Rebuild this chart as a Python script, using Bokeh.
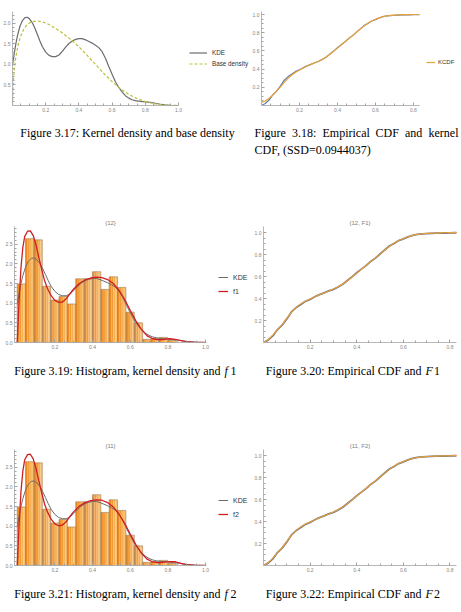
import numpy as np
from bokeh.plotting import figure
from bokeh.layouts import column, row
from bokeh.models import Range1d, FixedTicker, Legend, LegendItem, PrintfTickFormatter
from bokeh.core.properties import value
from bokeh.embed import file_html
from bokeh.resources import INLINE

# ---------------- data ----------------
kde_x = [0.0, 0.01, 0.02, 0.03, 0.045, 0.06, 0.075, 0.09, 0.105, 0.12, 0.135, 0.15, 0.165, 0.18,
         0.20, 0.22, 0.24, 0.26, 0.28, 0.30, 0.32, 0.34, 0.36, 0.38, 0.40, 0.42, 0.44, 0.46, 0.48,
         0.50, 0.52, 0.54, 0.56, 0.58, 0.60, 0.62, 0.64, 0.66, 0.68, 0.70, 0.72, 0.74, 0.77, 0.80,
         0.83, 0.86, 0.89, 0.92, 0.95, 1.0]
kde_y = [0.97, 1.25, 1.50, 1.70, 1.93, 2.07, 2.14, 2.15, 2.10, 2.01, 1.88, 1.73, 1.57, 1.43,
         1.30, 1.22, 1.19, 1.19, 1.23, 1.32, 1.42, 1.51, 1.57, 1.61, 1.63, 1.63, 1.60, 1.56, 1.52,
         1.47, 1.41, 1.31, 1.15, 0.95, 0.76, 0.58, 0.44, 0.33, 0.24, 0.18, 0.14, 0.12, 0.10, 0.09,
         0.075, 0.055, 0.03, 0.015, 0.006, 0.0]

base_x = [0.0, 0.005, 0.01, 0.02, 0.035, 0.05, 0.07, 0.09, 0.11, 0.13, 0.15, 0.175, 0.20, 0.225,
          0.25, 0.30, 0.35, 0.40, 0.45, 0.50, 0.55, 0.60, 0.65, 0.70, 0.75, 0.80, 0.85, 0.90, 0.95, 1.0]
base_y = [0.0, 0.55, 0.85, 1.18, 1.50, 1.70, 1.88, 1.98, 2.03, 2.05, 2.06, 2.04, 2.01, 1.96,
          1.90, 1.77, 1.61, 1.43, 1.22, 1.00, 0.78, 0.58, 0.41, 0.27, 0.17, 0.095, 0.045, 0.017, 0.004, 0.0]

f_x = [0.0, 0.01, 0.02, 0.03, 0.04, 0.055, 0.07, 0.085, 0.10, 0.115, 0.13, 0.145, 0.16, 0.18,
       0.20, 0.22, 0.24, 0.26, 0.28, 0.30, 0.33, 0.36, 0.39, 0.42, 0.45, 0.48, 0.51, 0.54, 0.57,
       0.60, 0.63, 0.66, 0.69, 0.72, 0.75, 0.78, 0.81, 0.84, 0.87, 0.90, 0.94, 1.0]
f1_y = [0.0, 1.05, 1.90, 2.42, 2.70, 2.83, 2.84, 2.72, 2.48, 2.16, 1.86, 1.58, 1.38, 1.19,
        1.07, 1.02, 1.03, 1.11, 1.24, 1.36, 1.50, 1.59, 1.64, 1.66, 1.65, 1.60, 1.50, 1.33, 1.10,
        0.82, 0.55, 0.33, 0.17, 0.095, 0.07, 0.08, 0.095, 0.08, 0.045, 0.02, 0.007, 0.0]
f2_y = [0.0, 1.03, 1.88, 2.40, 2.69, 2.82, 2.83, 2.71, 2.47, 2.15, 1.85, 1.57, 1.37, 1.18,
        1.06, 1.01, 1.03, 1.11, 1.25, 1.37, 1.51, 1.60, 1.65, 1.67, 1.66, 1.60, 1.49, 1.31, 1.08,
        0.80, 0.53, 0.31, 0.16, 0.09, 0.07, 0.085, 0.10, 0.095, 0.055, 0.022, 0.007, 0.0]

bin_start = 0.0
bin_width = 0.0444
hist_heights = [1.49, 2.64, 2.61, 1.43, 1.08, 1.17, 0.98, 1.62, 1.62, 1.80, 1.35, 1.67, 1.40,
                0.77, 0.50, 0.08, 0.10, 0.13, 0.05]

cdf_x = [0.0, 0.02, 0.04, 0.06, 0.08, 0.10, 0.12, 0.14, 0.16, 0.18, 0.20, 0.22, 0.24, 0.26,
         0.28, 0.30, 0.32, 0.34, 0.36, 0.38, 0.40, 0.42, 0.44, 0.46, 0.48, 0.50, 0.52, 0.54,
         0.56, 0.58, 0.60, 0.62, 0.64, 0.66, 0.68, 0.70, 0.72, 0.74, 0.76, 0.78, 0.80, 0.82, 0.84]
ecdf_y = [0.000, 0.022, 0.060, 0.118, 0.158, 0.215, 0.278, 0.318, 0.346, 0.375, 0.392, 0.416,
          0.436, 0.452, 0.470, 0.484, 0.505, 0.530, 0.565, 0.598, 0.635, 0.668, 0.700, 0.738,
          0.768, 0.806, 0.842, 0.878, 0.902, 0.928, 0.944, 0.962, 0.976, 0.984, 0.988, 0.992,
          0.994, 0.995, 0.996, 0.997, 0.998, 0.999, 1.000]
kcdf_y = [0.035, 0.050, 0.080, 0.115, 0.160, 0.205, 0.255, 0.300, 0.335, 0.365, 0.390, 0.413,
          0.434, 0.452, 0.469, 0.486, 0.507, 0.532, 0.563, 0.597, 0.633, 0.667, 0.701, 0.736,
          0.769, 0.805, 0.840, 0.874, 0.903, 0.928, 0.947, 0.963, 0.976, 0.985, 0.990, 0.993,
          0.995, 0.997, 0.998, 0.999, 1.000, 1.000, 1.000]
F1_y = [0.000, 0.025, 0.068, 0.118, 0.160, 0.220, 0.275, 0.320, 0.352, 0.376, 0.396, 0.415,
        0.434, 0.451, 0.468, 0.486, 0.508, 0.533, 0.562, 0.596, 0.632, 0.667, 0.702, 0.736,
        0.770, 0.805, 0.840, 0.874, 0.905, 0.928, 0.945, 0.962, 0.975, 0.984, 0.990, 0.993,
        0.995, 0.996, 0.998, 0.999, 1.000, 1.000, 1.000]
F2_y = [0.000, 0.024, 0.067, 0.117, 0.160, 0.219, 0.274, 0.320, 0.352, 0.377, 0.397, 0.416,
        0.435, 0.452, 0.469, 0.487, 0.509, 0.534, 0.563, 0.597, 0.633, 0.668, 0.703, 0.737,
        0.771, 0.806, 0.841, 0.875, 0.905, 0.928, 0.945, 0.961, 0.974, 0.983, 0.989, 0.992,
        0.994, 0.996, 0.997, 0.998, 0.999, 1.000, 1.000]

ticks_x_density = [0.2, 0.4, 0.6, 0.8, 1.0]
ticks_y_density = [0.5, 1.0, 1.5, 2.0]
ticks_y_hist = [0.0, 0.5, 1.0, 1.5, 2.0, 2.5]
ticks_x_cdf = [0.2, 0.4, 0.6, 0.8]
ticks_y_cdf = [0.2, 0.4, 0.6, 0.8, 1.0]
minor_x = [0.05, 0.1, 0.15, 0.25, 0.3, 0.35, 0.45, 0.5, 0.55, 0.65, 0.7, 0.75, 0.85, 0.9, 0.95]
minor_y_density = [0.1, 0.2, 0.3, 0.4, 0.6, 0.7, 0.8, 0.9, 1.1, 1.2, 1.3, 1.4, 1.6, 1.7, 1.8, 1.9, 2.1, 2.2]
minor_y_hist = minor_y_density + [2.3, 2.4, 2.6, 2.7, 2.8, 2.9]
minor_y_cdf = [0.05, 0.1, 0.15, 0.25, 0.3, 0.35, 0.45, 0.5, 0.55, 0.65, 0.7, 0.75, 0.85, 0.9, 0.95]

# ---------------- style ----------------
SANS = "Liberation Sans"
SERIF = "Liberation Serif"
AXC = "#a3a3a3"
TICKTXT = "#858585"
KDE_C = "#6c6c6c"
BASE_C = "#bcc03c"
RED = "#d01f23"
ORANGE = "#e9a13b"
ECDF_C = "#5e7fae"
STRIPS = ["#f08c25", "#f39d3a", "#f6b055", "#f8c274"]
BAR_EDGE = "#a07c58"


def make_fig(w, h, xr, yr, bl, br, bt, bb, xt, xm, yt, ym, title=None):
    p = figure(width=w, height=h, x_range=Range1d(*xr), y_range=Range1d(*yr),
               output_backend="svg", toolbar_location=None,
               min_border_left=bl, min_border_right=br, min_border_top=bt, min_border_bottom=bb)
    p.outline_line_color = None
    p.grid.visible = False
    p.background_fill_color = "white"
    p.xaxis.ticker = FixedTicker(ticks=xt, minor_ticks=xm)
    p.yaxis.ticker = FixedTicker(ticks=yt, minor_ticks=ym)
    for ax in list(p.xaxis) + list(p.yaxis):
        ax.formatter = PrintfTickFormatter(format="%.1f")
        ax.axis_line_color = AXC
        ax.axis_line_width = 0.8
        ax.major_tick_line_color = AXC
        ax.minor_tick_line_color = AXC
        ax.major_tick_in = 3
        ax.major_tick_out = 0
        ax.minor_tick_in = 2
        ax.minor_tick_out = 0
        ax.major_label_text_font = SANS
        ax.major_label_text_font_size = "5px"
        ax.major_label_text_color = TICKTXT
        ax.major_label_standoff = 2
    if title:
        p.title.text = title
        p.title.text_font = SANS
        p.title.text_font_size = "6px"
        p.title.text_font_style = "normal"
        p.title.text_color = "#808080"
        p.title.align = "center"
        p.title.standoff = 2
    return p


def legend_fig(w, h, entries, gw, gh, sp, loc, standoff=5, fsize="6px"):
    """Separate small canvas holding the legend that sits right of a plot.
    The series are drawn out of view; only their legend entries show."""
    p = figure(width=w, height=h, x_range=Range1d(10, 11), y_range=Range1d(10, 11),
               output_backend="svg", toolbar_location=None, min_border=0,
               x_axis_type=None, y_axis_type=None)
    p.outline_line_color = None
    p.grid.visible = False
    items = []
    for label, xs, ys, color, width, dash in entries:
        r = p.line(x=xs, y=ys, line_color=color, line_width=width, line_dash=dash)
        items.append(LegendItem(label=label, renderers=[r]))
    leg = Legend(items=items, location=loc)
    leg.border_line_color = None
    leg.background_fill_alpha = 0
    leg.padding = 0
    leg.margin = 0
    leg.spacing = sp
    leg.glyph_width = gw
    leg.glyph_height = gh
    leg.label_height = gh
    leg.label_standoff = standoff
    leg.label_text_font = SANS
    leg.label_text_font_size = fsize
    leg.label_text_color = "#333333"
    p.add_layout(leg)
    return p


# ---- Figure 3.17 ----
p17 = make_fig(182, 118, (0, 1.0), (0, 2.29), 12, 4, 3, 13,
               ticks_x_density, minor_x, ticks_y_density, minor_y_density)
p17.line(kde_x, kde_y, line_color=KDE_C, line_width=1.2)
p17.line(base_x, base_y, line_color=BASE_C, line_width=1.2, line_dash="3 2")
l17 = legend_fig(67, 118, [("KDE", kde_x, kde_y, KDE_C, 1.2, "solid"),
                           ("Base density", base_x, base_y, BASE_C, 1.2, "3 2")],
                 18, 9, 2, (7, 37), fsize="6.3px")

# ---- Figure 3.18 ----
p18 = make_fig(174, 118, (0, 0.832), (0, 1.033), 12, 4, 11, 13,
               ticks_x_cdf, minor_x, ticks_y_cdf, minor_y_cdf)
p18.line(cdf_x, ecdf_y, line_color=ECDF_C, line_width=1.2)
p18.line(cdf_x, kcdf_y, line_color=ORANGE, line_width=1.2)
l18 = legend_fig(38, 118, [("KCDF", cdf_x, kcdf_y, ORANGE, 1.2, "solid")], 9, 10, 0, (3, 38),
                 standoff=3)


def hist_fig(fy, title):
    p = make_fig(210, 160, (-0.0143, 1.005), (0, 2.95), 14, 4, 31, 13,
                 ticks_x_density, minor_x, ticks_y_hist, minor_y_hist, title=title)
    edges = bin_start + bin_width * np.arange(len(hist_heights))
    centers = edges + bin_width / 2
    for k, col in enumerate(STRIPS):
        p.vbar(x=centers + (k - 1.5) * bin_width / 4, width=bin_width / 4, top=hist_heights,
               bottom=0, fill_color=col, line_color=None)
    p.vbar(x=centers, width=bin_width, top=hist_heights, bottom=0, fill_color=None,
           line_color=BAR_EDGE, line_width=0.6)
    p.line(kde_x, kde_y, line_color=KDE_C, line_width=1.0)
    p.line(f_x, fy, line_color=RED, line_width=1.3)
    return p


def cdf_fig(Fy, title):
    p = make_fig(212, 160, (0, 0.828), (0, 1.056), 14, 5, 28, 13,
                 ticks_x_cdf, minor_x, ticks_y_cdf, minor_y_cdf, title=title)
    p.line(cdf_x, ecdf_y, line_color="#6f7480", line_width=1.8)
    p.line(cdf_x, Fy, line_color=ORANGE, line_width=1.1)
    return p


p19 = hist_fig(f1_y, "{12}")
l19 = legend_fig(39, 160, [("KDE", kde_x, kde_y, KDE_C, 1.0, "solid"),
                           ("f1", f_x, f1_y, RED, 1.3, "solid")], 10, 12, 2, (8, 45), fsize="7px")
p20 = cdf_fig(F1_y, "{12, F1}")
p21 = hist_fig(f2_y, "{11}")
l21 = legend_fig(39, 160, [("KDE", kde_x, kde_y, KDE_C, 1.0, "solid"),
                           ("f2", f_x, f2_y, RED, 1.3, "solid")], 10, 12, 2, (8, 45), fsize="7px")
p22 = cdf_fig(F2_y, "{11, F2}")


# ---------------- captions ----------------
def caption_fig(h):
    p = figure(width=461, height=h, x_range=Range1d(0, 461), y_range=Range1d(h, 0),
               output_backend="svg", toolbar_location=None, min_border=0,
               x_axis_type=None, y_axis_type=None)
    p.outline_line_color = None
    p.grid.visible = False
    return p


def put(p, x, y, txt, align="left", style="normal"):
    p.text(x=[x], y=[y], text=[txt], text_font=value(SERIF), text_font_size="12px",
           text_font_style=style, text_align=align, text_baseline="alphabetic", text_color="black")


c1 = caption_fig(77)
put(c1, 127, 14, "Figure 3.17: Kernel density and base density", align="center")
words = ["Figure", "3.18:", "Empirical", "CDF", "and"]
wx = [254, 291.5, 322, 375, 404.5]
for wd, xx in zip(words, wx):
    put(c1, xx, 14, wd)
put(c1, 458, 14, "kernel", align="right")
put(c1, 254, 31, "CDF, (SSD=0.0944037)")

c2 = caption_fig(63)
put(c2, 220, 15, "Figure 3.19: Histogram, kernel density and", align="right")
put(c2, 224, 15, "f", style="italic")
put(c2, 230, 15, "1")
put(c2, 421, 15, "Figure 3.20: Empirical CDF and", align="right")
put(c2, 425, 15, "F", style="italic")
put(c2, 433.5, 15, "1")

c3 = caption_fig(34)
put(c3, 220, 15, "Figure 3.21: Histogram, kernel density and", align="right")
put(c3, 224, 15, "f", style="italic")
put(c3, 230, 15, "2")
put(c3, 421, 15, "Figure 3.22: Empirical CDF and", align="right")
put(c3, 425, 15, "F", style="italic")
put(c3, 433.5, 15, "2")

layout = column(row(p17, l17, p18, l18), c1, row(p19, l19, p20), c2, row(p21, l21, p22), c3)

open("out.html", "w").write(file_html(layout, INLINE))
